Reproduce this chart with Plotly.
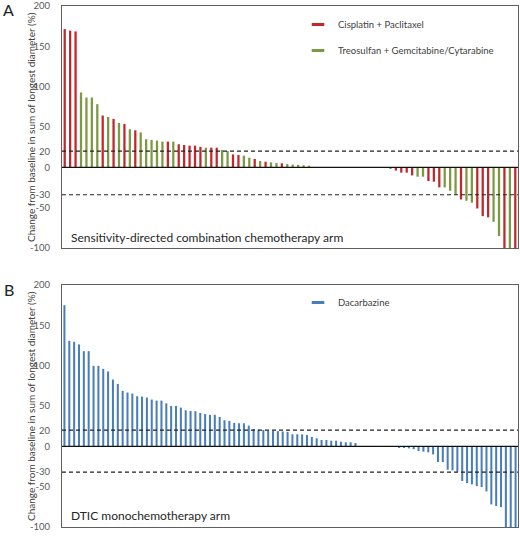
import plotly.graph_objects as go

# ---------------- data ----------------
# Panel A: sensitivity-directed combination chemotherapy arm (84 patients, sorted)
a_values = [171.4, 169.4, 168.5, 92.8, 86.5, 86.5, 78.3, 64.2, 62.5, 60.0,
            55.0, 53.8, 47.2, 45.9, 43.3, 34.8, 34.0, 33.1, 31.9, 31.9,
            31.9, 28.6, 27.7, 26.9, 26.9, 25.3, 24.4, 24.4, 24.4, 21.5,
            20.3, 16.1, 15.3, 14.5, 12.0, 10.4, 7.9, 7.0, 6.2, 5.4,
            5.0, 4.0, 3.5, 3.0, 2.5, 2.0,
            0, 0, 0, 0, 0, 0, 0, 0, 0, 0, 0, 0, 0, 0,
            -1.7, -4.0, -6.6, -6.6, -10.0, -11.6, -11.6, -17.0, -17.8, -24.8,
            -24.8, -29.0, -33.5, -39.8, -41.4, -43.9, -51.0, -60.5, -62.0, -67.5,
            -85.3, -100, -100, -100]
a_arm = (["C"] * 3 + ["T"] * 4 + ["C", "T", "C", "T", "C", "T", "C"] + ["T"] * 5 +
         ["C", "T"] + ["C"] * 5 + ["T", "C", "C", "T", "T", "C", "C", "T", "T", "C", "T", "C",
                                   "T", "T", "C"] + ["T"] * 5 +
         ["T"] * 14 +
         ["T"] + ["C"] * 4 + ["T"] * 2 + ["C"] * 3 + ["T"] * 3 + ["C"] + ["T"] * 2 +
         ["C"] * 3 + ["T"] * 2 + ["C", "T", "C"])

# Panel B: DTIC monochemotherapy arm (94 patients, sorted)
b_values = [175.0, 130.8, 129.6, 126.3, 118.0, 118.0, 99.8, 99.8, 96.0, 92.8,
            82.8, 77.4, 68.7, 66.7, 65.4, 62.1, 61.7, 60.5, 58.0, 56.7,
            56.7, 53.4, 50.1, 50.1, 48.0, 44.7, 43.9, 43.5, 41.4, 40.0,
            39.0, 39.0, 36.4, 32.3, 31.5, 29.0, 28.6, 28.6, 25.7, 21.5,
            20.7, 20.3, 19.5, 19.0, 18.8, 18.4, 18.0, 14.9, 14.9, 14.9,
            14.0, 11.6, 9.9, 7.9, 7.9, 7.0, 7.0, 5.8, 5.0, 5.0, 4.1,
            0, 0, 0, 0, 0, 0, 0,
            -0.8, -1.2, -1.8, -2.5, -3.5, -5.8, -6.6, -7.5, -10.0, -19.5,
            -19.5, -29.0, -29.8, -31.5, -43.0, -45.5, -47.2, -49.3, -50.5, -55.9,
            -72.0, -74.0, -75.4, -100, -100, -100]

arm_names = {"C": "Cisplatin + Paclitaxel", "T": "Treosulfan + Gemcitabine/Cytarabine"}
b_name = "Dacarbazine"

tick_vals_a = [200, 150, 100, 50, 20, 0, -34, -50, -100]
tick_vals_b = [200, 150, 100, 50, 20, 0, -32, -50, -100]
tick_text = ["200", "150", "100", "50", "20", "0", "-30", "-50", "-100"]
line_pd = 20            # progression threshold line
line_pr_a = -34         # where the "-30" response line is drawn in panel A
line_pr_b = -32         # and in panel B

# ---------------- style ----------------
RED = "#C0282E"
GREEN = "#7C9A42"
BLUE = "#4A7EBB"
colors = {"C": RED, "T": GREEN}
FONT = "Lato"
FRAME = "#5f5f5f"
TICKC = "#595959"

W, H = 520, 536
xdom = [62 / W, 518 / W]
ydom_a = [1 - 248 / H, 1 - 6 / H]
ydom_b = [1 - 527 / H, 1 - 285 / H]

fig = go.Figure()

# Panel A bars
for arm in ["C", "T"]:
    xs = [i + 1 for i, a in enumerate(a_arm) if a == arm]
    ys = [a_values[i] for i, a in enumerate(a_arm) if a == arm]
    fig.add_trace(go.Bar(x=xs, y=ys, width=0.42, marker=dict(color=colors[arm], line=dict(width=0)),
                         xaxis="x", yaxis="y", showlegend=False, hoverinfo="x+y"))
# Panel B bars
fig.add_trace(go.Bar(x=list(range(1, len(b_values) + 1)), y=b_values, width=0.42,
                     marker=dict(color=BLUE, line=dict(width=0)),
                     xaxis="x2", yaxis="y2", showlegend=False))

# legend entries (short horizontal line markers)
for arm in ["C", "T"]:
    fig.add_trace(go.Scatter(x=[None], y=[None], mode="markers", name=arm_names[arm],
                             marker=dict(symbol="line-ew", size=9, line=dict(width=3, color=colors[arm])),
                             xaxis="x", yaxis="y", legend="legend", legendgroup=arm))
fig.add_trace(go.Scatter(x=[None], y=[None], mode="markers", name=b_name,
                         marker=dict(symbol="line-ew", size=9, line=dict(width=3, color=BLUE)),
                         xaxis="x2", yaxis="y2", legend="legend2"))

def xaxis(n, dom, anchor):
    return dict(domain=dom, anchor=anchor, range=[0.5, n + 0.5], showticklabels=False,
                showgrid=False, zeroline=False, showline=True, mirror=True,
                linecolor=FRAME, linewidth=1, ticks="")

def yaxis(dom, anchor, tv):
    return dict(domain=dom, anchor=anchor, range=[-100, 200], tickvals=tv, ticktext=tick_text,
                showgrid=False, zeroline=False, showline=True, mirror=True,
                linecolor=FRAME, linewidth=1, ticks="", ticklabelstandoff=9,
                tickfont=dict(family=FONT, size=9.5, color=TICKC), automargin=False)

fig.update_layout(
    width=W, height=H, margin=dict(l=0, r=0, t=0, b=0, autoexpand=False),
    paper_bgcolor="white", plot_bgcolor="white", barmode="overlay",
    xaxis=xaxis(len(a_values), xdom, "y"),
    yaxis=yaxis(ydom_a, "x", tick_vals_a),
    xaxis2=xaxis(len(b_values), xdom, "y2"),
    yaxis2=yaxis(ydom_b, "x2", tick_vals_b),
    font=dict(family=FONT, color="#404040"),
    legend=dict(x=298 / W, y=1 - 10 / H, xanchor="left", yanchor="top", bgcolor="rgba(0,0,0,0)",
                font=dict(family=FONT, size=9.5, color="#404040"), tracegroupgap=7,
                itemwidth=30),
    legend2=dict(x=298 / W, y=1 - 288 / H, xanchor="left", yanchor="top", bgcolor="rgba(0,0,0,0)",
                 font=dict(family=FONT, size=9.5, color="#404040"), itemwidth=30),
)

shapes = []
for xr, yr, pr in [("x", "y", line_pr_a), ("x2", "y2", line_pr_b)]:
    shapes.append(dict(type="line", xref=f"{xr} domain", yref=yr, x0=0, x1=1, y0=0, y1=0,
                       line=dict(color="#111111", width=1.3)))
    for yv in (line_pd, pr):
        shapes.append(dict(type="line", xref=f"{xr} domain", yref=yr, x0=0, x1=1, y0=yv, y1=yv,
                           line=dict(color="#222222", width=1.2, dash="4px,3px")))
fig.update_layout(shapes=shapes)

ytitle = "Change from baseline in sum of longest diameter (%)"
ann = [
    dict(text="A", x=1 / W, y=1 + 2 / H, xref="paper", yref="paper", xanchor="left", yanchor="top",
         showarrow=False, font=dict(family=FONT, size=16, color="#222222")),
    dict(text="B", x=2 / W, y=1 - 278 / H, xref="paper", yref="paper", xanchor="left", yanchor="top",
         showarrow=False, font=dict(family=FONT, size=16, color="#222222")),
    dict(text=ytitle, x=31 / W, y=sum(ydom_a) / 2, xref="paper", yref="paper", textangle=-90,
         xanchor="center", yanchor="middle",
         showarrow=False, font=dict(family=FONT, size=10, color="#404040")),
    dict(text=ytitle, x=31 / W, y=sum(ydom_b) / 2, xref="paper", yref="paper", textangle=-90,
         xanchor="center", yanchor="middle",
         showarrow=False, font=dict(family=FONT, size=10, color="#404040")),
    dict(text="Sensitivity-directed combination chemotherapy arm", x=69 / W, y=1 - 237 / H,
         xref="paper", yref="paper", xanchor="left", yanchor="middle", showarrow=False,
         font=dict(family=FONT, size=12, color="#262626")),
    dict(text="DTIC monochemotherapy arm", x=69 / W, y=1 - 515 / H,
         xref="paper", yref="paper", xanchor="left", yanchor="middle", showarrow=False,
         font=dict(family=FONT, size=12, color="#262626")),
]
fig.update_layout(annotations=ann)

fig.write_html("out.html", config={"displayModeBar": False},
               post_script="document.body.style.margin='0px';")
